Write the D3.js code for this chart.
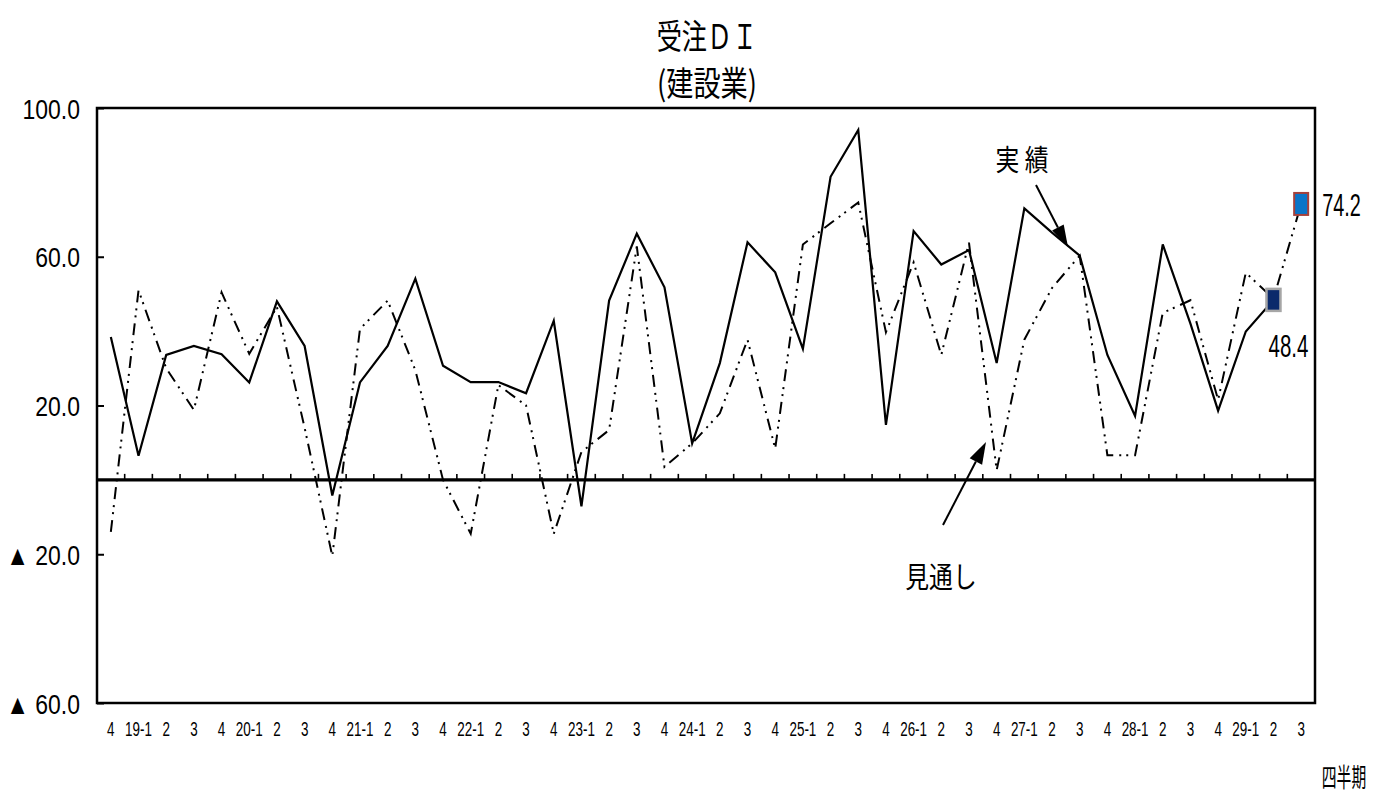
<!DOCTYPE html>
<html><head><meta charset="utf-8">
<script src="https://cdn.jsdelivr.net/npm/d3@7"></script>
<style>body{margin:0;background:#fff;}svg{display:block;}</style>
</head><body>
<svg id="c" width="1378" height="799"></svg>
<script>
const categories = ["4","19-1","2","3","4","20-1","2","3","4","21-1","2","3","4","22-1","2","3","4","23-1","2","3","4","24-1","2","3","4","25-1","2","3","4","26-1","2","3","4","27-1","2","3","4","28-1","2","3","4","29-1","2","3"];
const actual = [38.4,6.5,33.6,36.0,33.8,26.2,48.0,36.0,-4.2,26.2,36.0,54.1,30.7,26.3,26.3,23.3,42.8,-7.1,48.2,66.2,51.8,9.8,31.4,63.9,55.8,35.2,81.5,94.1,14.8,66.9,57.9,61.8,31.4,73.0,66.5,60.3,33.6,17.2,63.3,42.0,18.6,39.9,48.4,null];
const outlook = [-14.0,51.0,30.0,18.8,50.4,33.9,46.5,14.0,-20.5,40.6,48.2,29.5,0.0,-14.5,25.5,20.0,-14.5,7.5,13.4,62.8,3.5,9.8,17.9,37.7,8.4,63.3,69.0,74.6,39.7,58.5,33.6,63.8,2.6,37.7,51.6,60.3,6.6,6.6,44.9,48.3,21.5,55.7,48.7,74.2];
const yTicks = [100,60,20,-20,-60];
const title1 = "受注ＤＩ", title2 = "(建設業)";
const lblActual = "実 績", lblOutlook = "見通し", xTitle = "四半期";

const svg = d3.select("#c");
const L=97, R=1315, T=108, B=703;
const x = d3.scaleBand().domain(d3.range(categories.length)).range([L,R]);
const y = d3.scaleLinear().domain([-60,100]).range([B,T]);
const cx = i => x(i) + x.bandwidth()/2;
const NUM = "'Liberation Sans', Arial, sans-serif";
const CJK = "'Noto Sans CJK JP', sans-serif";

function txt(px, py, s, size, sx, anchor, fam, weight){
  const g = svg.append("g").attr("transform",`translate(${px},${py}) scale(${sx},1)`);
  g.append("text").attr("text-anchor",anchor||"middle").attr("font-family",fam).attr("font-size",size)
    .attr("font-weight",weight||"normal").attr("fill","#000").text(s);
  return g;
}

// titles
txt(707, 49, title1, 34, 0.74, "middle", CJK);
txt(707, 96, title2, 34, 0.8, "middle", CJK);

// plot border
svg.append("rect").attr("x",L).attr("y",T).attr("width",R-L).attr("height",B-T)
  .attr("fill","none").attr("stroke","#000").attr("stroke-width",2.5);

// y axis
const ya = svg.append("g").attr("transform",`translate(${L},0)`)
  .call(d3.axisLeft(y).tickValues(yTicks).tickSizeInner(-7).tickSizeOuter(0)
    .tickFormat(v => v<0 ? "▲ "+Math.abs(v).toFixed(1) : v.toFixed(1)));
ya.select(".domain").remove();
ya.selectAll("line").attr("stroke","#000").attr("stroke-width",2);
ya.selectAll("text").attr("font-family",NUM).attr("font-size",28).attr("fill","#000")
  .attr("dy","0.36em").attr("transform","scale(0.82,1)").attr("x",-17/0.82);

// zero line with ticks
svg.append("line").attr("x1",L).attr("x2",R).attr("y1",y(0)).attr("y2",y(0))
  .attr("stroke","#000").attr("stroke-width",3.2);
const xt = svg.append("g").attr("transform",`translate(0,${y(0)})`)
  .call(d3.axisTop(x).tickSizeInner(6).tickSizeOuter(0).tickFormat(""));
xt.select(".domain").remove();
xt.selectAll(".tick").attr("transform", d => `translate(${x(d)},0)`);
xt.selectAll(".tick").filter(d => d===0).remove();
xt.selectAll("line").attr("stroke","#000").attr("stroke-width",1.6);

// x axis labels
const xa = svg.append("g").attr("transform",`translate(0,${B})`)
  .call(d3.axisBottom(x).tickSize(0).tickFormat(i => categories[i]));
xa.select(".domain").remove();
xa.selectAll("text").attr("font-family",NUM).attr("font-size",21).attr("fill","#000")
  .attr("y",33).attr("dy",0).attr("transform","scale(0.64,1)");
txt(1344, 787, xTitle, 26, 0.57, "middle", CJK);

// lines
const lineGen = d3.line().defined(d => d.v!=null).x(d => cx(d.i)).y(d => y(d.v));
svg.append("path").datum(outlook.map((v,i)=>({i,v})))
  .attr("d",lineGen).attr("fill","none").attr("stroke","#000").attr("stroke-width",2)
  .attr("stroke-dasharray","12,6,2,5,2,6");
svg.append("path").datum(actual.map((v,i)=>({i,v})))
  .attr("d",lineGen).attr("fill","none").attr("stroke","#000").attr("stroke-width",2.2)
  .attr("stroke-linejoin","miter");

// markers
const lastA = 42, lastO = 43;
svg.append("rect").attr("x",cx(lastA)-7).attr("y",y(actual[lastA])-11).attr("width",14).attr("height",22)
  .attr("fill","#0b2a6b").attr("stroke","#a6a6a6").attr("stroke-width",2.5);
svg.append("rect").attr("x",cx(lastO)-7).attr("y",y(outlook[lastO])-11).attr("width",14).attr("height",22)
  .attr("fill","#0a74c8").attr("stroke","#a5413c").attr("stroke-width",2);
txt(cx(lastO)+21, y(outlook[lastO])+12, outlook[lastO].toFixed(1), 31, 0.64, "start", NUM);
txt(cx(lastA)+15, y(actual[lastA])+57, actual[lastA].toFixed(1), 32, 0.64, "middle", NUM);

// annotations
function arrow(x1,y1,x2,y2,len,hw){
  const a = Math.atan2(y2-y1,x2-x1);
  const bx = x2 - len*Math.cos(a), by = y2 - len*Math.sin(a);
  svg.append("line").attr("x1",x1).attr("y1",y1).attr("x2",bx).attr("y2",by).attr("stroke","#000").attr("stroke-width",2);
  const p = [[x2,y2],[bx+hw*Math.sin(a),by-hw*Math.cos(a)],[bx-hw*Math.sin(a),by+hw*Math.cos(a)]];
  svg.append("path").attr("d","M"+p.map(q=>q.join(",")).join("L")+"Z").attr("fill","#000");
}
txt(1022, 171, lblActual, 29, 0.82, "middle", CJK);
arrow(1036,185,1068,247,22,6.5);
txt(941, 588, lblOutlook, 29, 0.82, "middle", CJK);
arrow(943,525,986,442,22,7);
</script>
</body></html>
